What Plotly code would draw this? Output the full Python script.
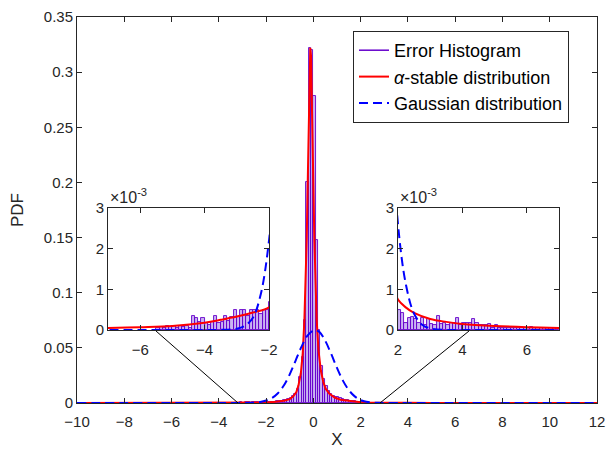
import plotly.graph_objects as go

# ---------------- data ----------------
hist_start = -5.45          # centre of first bin
hist_width = 0.1            # bin width
hist_heights = [
    0.00005, 0.00008, 0.00005, 0.0001, 0.00008, 0.0001, 0.00005, 0.0001, 0.00008, 0.0001,   # -5.45 .. -4.55
    0.00005, 0.00034, 0.00029, 0.0002, 0.00029, 0.00016, 0.00012, 0.0002, 0.00034, 0.00016,  # -4.45 .. -3.55
    0.0002, 0.00034, 0.00023, 0.00033, 0.0005, 0.00033, 0.0005, 0.0005, 0.00034, 0.0005,     # -3.45 .. -2.55
    0.0005, 0.0005, 0.0004, 0.0005, 0.0005,                                                   # -2.45 .. -2.05
    0.0007, 0.0009, 0.0008, 0.0012, 0.0015, 0.0014, 0.0019, 0.0024, 0.003, 0.0036,            # -1.95 .. -1.05
    0.0045, 0.006, 0.0085, 0.013, 0.024, 0.042, 0.075, 0.2, 0.322, 0.32,                      # -0.95 .. -0.05
    0.278, 0.148, 0.066, 0.034, 0.022, 0.015, 0.011, 0.008, 0.0065, 0.0055,                   # 0.05 .. 0.95
    0.005, 0.0042, 0.0035, 0.0028, 0.0024, 0.002, 0.0017, 0.0014, 0.0011, 0.0009,             # 1.05 .. 1.95
    0.00048, 0.00042, 0.00018, 0.0003, 0.00032, 0.00028, 0.00018, 0.0003, 0.00012, 0.00028,   # 2.05 .. 2.95
    0.00015, 0.00012, 0.00035, 0.00015, 0.00018, 0.00012, 0.00018, 0.00018, 0.0003, 0.00012,  # 3.05 .. 3.95
    0.00018, 0.00018, 0.00018, 0.00028, 0.00018, 0.00012, 0.00012, 0.00012, 0.00015, 0.00006, # 4.05 .. 4.95
    0.00012, 0.00006, 0.00006, 0.00006, 0.00004, 0.00004, 0.00004, 0.00004, 0.00004, 0.00004, # 5.05 .. 5.95
    0.00004, 0.00008, 0.00004, 0.00004, 0.00004, 0.00004, 0.00006, 0.00004, 0.00004, 0.00004, # 6.05 .. 6.95
]
hist_x = [round(hist_start + i * hist_width, 2) for i in range(len(hist_heights))]

stable_x = [-10, -9, -8, -7, -6, -5, -4, -3.5, -3, -2.5, -2, -1.75, -1.5, -1.25, -1, -0.85,
            -0.72, -0.63, -0.53, -0.45, -0.38, -0.33, -0.28, -0.23, -0.18, -0.13, -0.1, -0.06,
            -0.01, 0.04, 0.09, 0.14, 0.22, 0.32, 0.42, 0.52, 0.67, 0.9, 1.15, 1.45, 1.75, 2, 2.25,
            2.5, 3, 3.5, 4, 5, 6, 7, 8, 10, 12]
stable_y = [0.00002, 0.00003, 0.00004, 0.00005, 0.00007, 0.0001, 0.00018, 0.00025, 0.00033,
            0.00043, 0.00056, 0.0008, 0.0013, 0.002, 0.0035, 0.006, 0.01, 0.016, 0.027, 0.045,
            0.075, 0.105, 0.15, 0.21, 0.28, 0.322, 0.315, 0.28, 0.21, 0.15, 0.105, 0.075, 0.047,
            0.029, 0.019, 0.013, 0.0085, 0.005, 0.003, 0.002, 0.0013, 0.00075, 0.00055, 0.00042,
            0.00027, 0.0002, 0.00015, 0.0001, 0.00007, 0.00005, 0.00004, 0.00003, 0.00002]

gauss_x = [-10, -4, -3.5, -3, -2.75, -2.5, -2.25, -2, -1.75, -1.5, -1.25, -1, -0.75, -0.5, -0.25,
           0, 0.08, 0.25, 0.5, 0.75, 1, 1.25, 1.5, 1.75, 2, 2.25, 2.5, 2.75, 3, 3.5, 4, 12]
gauss_y = [0, 0, 0.000003, 0.00003, 0.0001, 0.0003, 0.0009, 0.0022, 0.0046, 0.0089, 0.0158,
           0.026, 0.0385, 0.0511, 0.0612, 0.0657, 0.066, 0.0645, 0.0565, 0.0447, 0.0318, 0.0203,
           0.0117, 0.006, 0.0026, 0.0011, 0.0004, 0.00013, 0.00004, 0.000003, 0, 0]

x_ticks = [-10, -8, -6, -4, -2, 0, 2, 4, 6, 8, 10, 12]
y_ticks = [0, 0.05, 0.1, 0.15, 0.2, 0.25, 0.3, 0.35]
y_ticktext = ["0", "0.05", "0.1", "0.15", "0.2", "0.25", "0.3", "0.35"]
inset_y_ticks = [0, 0.001, 0.002, 0.003]
inset_y_text = ["0", "1", "2", "3"]
left_inset_ticks = [-6, -4, -2]
right_inset_ticks = [2, 4, 6]

names = ["Error Histogram", "<i>α</i>-stable distribution", "Gaussian distribution"]

# ---------------- style / layout ----------------
W, H = 610, 449
PL, PR, PT, PB = 77, 597, 17, 403          # plot-area pixel box
PW, PH = PR - PL, PB - PT
PURPLE = "rgb(102,0,204)"
BAR_FILL = "rgba(150,105,230,0.5)"
RED = "rgb(255,0,0)"
BLUE = "rgb(0,0,255)"
AX = "#262626"
FONT = "Arial, Liberation Sans, sans-serif"

def fx(p):      # pixel x -> paper x
    return (p - PL) / PW

def fy(p):      # pixel y -> paper y
    return (PB - p) / PH

li_x = [fx(108), fx(269)]
ri_x = [fx(398), fx(559)]
in_y = [fy(330), fy(208)]

fig = go.Figure()

axes_sets = [("x", "y", "main"), ("x2", "y2", "in"), ("x3", "y3", "in")]
for xa, ya, kind in axes_sets:
    fig.add_trace(go.Bar(x=hist_x, y=hist_heights, width=hist_width, xaxis=xa, yaxis=ya,
                         marker=dict(color=BAR_FILL, line=dict(color=PURPLE, width=0.9)),
                         showlegend=False, hoverinfo="skip"))
for xa, ya, kind in axes_sets:
    fig.add_trace(go.Scatter(x=stable_x, y=stable_y, mode="lines", xaxis=xa, yaxis=ya,
                             line=dict(color=RED, width=2,
                                       shape="linear" if kind == "main" else "spline"),
                             showlegend=False, hoverinfo="skip"))
for xa, ya, kind in axes_sets:
    fig.add_trace(go.Scatter(x=gauss_x, y=gauss_y, mode="lines", xaxis=xa, yaxis=ya,
                             line=dict(color=BLUE, width=2, dash="9px,5px", shape="spline"),
                             showlegend=False, hoverinfo="skip"))

# legend entries
fig.add_trace(go.Scatter(x=[None], y=[None], mode="lines", name=names[0], legendgroup="a",
                         line=dict(color=PURPLE, width=1.5)))
fig.add_trace(go.Scatter(x=[None], y=[None], mode="lines", name=names[1], legendgroup="b",
                         line=dict(color=RED, width=2)))
fig.add_trace(go.Scatter(x=[None], y=[None], mode="lines", name=names[2], legendgroup="c",
                         line=dict(color=BLUE, width=2, dash="9px,5px")))

common_axis = dict(showline=True, linecolor=AX, linewidth=1, mirror="ticks", ticks="inside",
                   ticklen=5, tickcolor=AX, showgrid=False, zeroline=False, automargin=False,
                   tickfont=dict(family=FONT, size=15, color=AX))

fig.update_layout(
    width=W, height=H, margin=dict(l=PL, r=W - PR, t=PT, b=H - PB),
    paper_bgcolor="white", plot_bgcolor="white",
    font=dict(family=FONT, color=AX),
    bargap=0, barmode="overlay",
    xaxis=dict(domain=[0, 1], range=[-10, 12], tickvals=x_ticks, anchor="y", ticklabelstandoff=5,
               title=dict(text="X", font=dict(size=17, color=AX)), **common_axis),
    yaxis=dict(domain=[0, 1], range=[0, 0.35], tickvals=y_ticks, ticktext=y_ticktext, anchor="x",
               title=dict(text="PDF", font=dict(size=17, color=AX)), **common_axis),
    xaxis2=dict(domain=li_x, range=[-7, -2], tickvals=left_inset_ticks, anchor="y2",
                ticklabelstandoff=6, **common_axis),
    yaxis2=dict(domain=in_y, range=[0, 0.003], tickvals=inset_y_ticks, ticktext=inset_y_text,
                anchor="x2", **common_axis),
    xaxis3=dict(domain=ri_x, range=[2, 7], tickvals=right_inset_ticks, anchor="y3",
                ticklabelstandoff=6, **common_axis),
    yaxis3=dict(domain=in_y, range=[0, 0.003], tickvals=inset_y_ticks, ticktext=inset_y_text,
                anchor="x3", **common_axis),
    legend=dict(x=fx(353), y=fy(31), xanchor="left", yanchor="top",
                bgcolor="white", bordercolor=AX, borderwidth=1,
                font=dict(family=FONT, size=18, color="black"),
                traceorder="grouped", tracegroupgap=0, itemwidth=30),
)

# "x10^-3" labels
for xd in (li_x, ri_x):
    fig.add_annotation(xref="paper", yref="paper", x=xd[0], y=in_y[1],
                       xanchor="left", yanchor="bottom", showarrow=False,
                       text="×10<sup>-3</sup>", font=dict(family=FONT, size=16, color=AX))

# connector lines (inset -> main axis)
fig.add_shape(type="line", xref="paper", yref="paper", x0=fx(156), y0=fy(331),
              x1=fx(238), y1=0, line=dict(color="black", width=1))
fig.add_shape(type="line", xref="paper", yref="paper", x0=fx(469), y0=fy(331),
              x1=fx(380), y1=0, line=dict(color="black", width=1))

fig.write_html("out.html", post_script="document.body.style.margin='0';",
               config={"displayModeBar": False})
